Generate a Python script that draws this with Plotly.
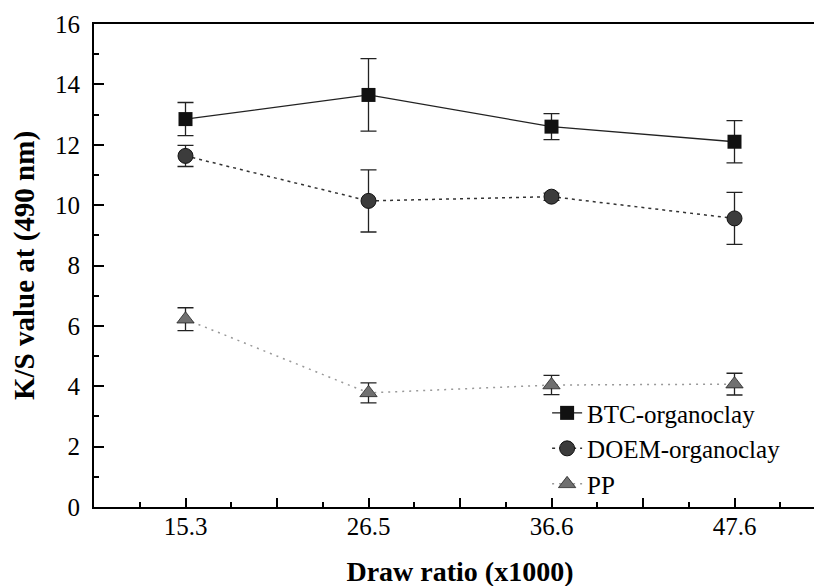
import plotly.graph_objects as go

# ---- data ----
draw_ratio = ["15.3", "26.5", "36.6", "47.6"]
btc_vals = [12.85, 13.65, 12.6, 12.1]
btc_err = [0.55, 1.2, 0.43, 0.7]
doem_vals = [11.63, 10.14, 10.28, 9.56]
doem_err = [0.35, 1.03, 0.12, 0.86]
pp_vals = [6.22, 3.78, 4.04, 4.07]
pp_err = [0.38, 0.33, 0.32, 0.36]

xpos = list(range(1, len(draw_ratio) + 1))
serif = "Liberation Serif, Times New Roman, serif"

fig = go.Figure()
fig.add_trace(go.Scatter(
    x=xpos, y=btc_vals, name="BTC-organoclay", mode="lines+markers",
    line=dict(color="#222", width=1.3),
    marker=dict(symbol="square", size=14, color="#111", line=dict(width=0)),
    error_y=dict(type="data", array=btc_err, color="#222", thickness=1.3, width=8),
))
fig.add_trace(go.Scatter(
    x=xpos, y=doem_vals, name="DOEM-organoclay", mode="lines+markers",
    line=dict(color="#333", width=1.5, dash="3px,4px"),
    marker=dict(symbol="circle", size=15, color="#3c3c3c", line=dict(width=1, color="#111")),
    error_y=dict(type="data", array=doem_err, color="#222", thickness=1.3, width=8),
))
fig.add_trace(go.Scatter(
    x=xpos, y=pp_vals, name="PP", mode="lines+markers",
    line=dict(color="#999", width=1.5, dash="2px,5px"),
    marker=dict(symbol="triangle-up", size=15, color="#707070", line=dict(width=0.8, color="#222")),
    error_y=dict(type="data", array=pp_err, color="#222", thickness=1.3, width=8),
))

tickvals = [0.5 + 0.5 * i for i in range(2 * len(draw_ratio) + 1)]
ticktext = []
for v in tickvals:
    if abs(v - round(v)) < 1e-9 and 1 <= round(v) <= len(draw_ratio):
        ticktext.append(draw_ratio[int(round(v)) - 1])
    else:
        ticktext.append("")

fig.update_layout(
    width=822, height=586,
    margin=dict(l=86, r=4, t=16, b=87),
    paper_bgcolor="white", plot_bgcolor="white",
    font=dict(family=serif, color="black", size=24),
    showlegend=True,
    legend=dict(
        x=0.619, y=0.242, xanchor="left", yanchor="top",
        bgcolor="rgba(0,0,0,0)", font=dict(size=25, family=serif),
        itemwidth=30, tracegroupgap=0,
    ),
    xaxis=dict(
        range=[0.5, 4.5], tickmode="array", tickvals=tickvals, ticktext=ticktext,
        automargin=False,
        ticks="inside", ticklen=9, tickwidth=1.5, tickcolor="black",
        minor=dict(tickmode="linear", tick0=0.75, dtick=0.5, ticks="inside", ticklen=5, tickwidth=1.5, tickcolor="black"),
        showline=True, linecolor="black", linewidth=2, mirror=True,
        showgrid=False, zeroline=False,
        tickfont=dict(size=25, family=serif),
        ticklabelstandoff=-4,
        title=dict(text="<b>Draw ratio (x1000)</b>", font=dict(size=28, family=serif), standoff=22),
    ),
    yaxis=dict(
        range=[0, 16], dtick=2, tick0=0,
        automargin=False,
        ticks="inside", ticklen=10, tickwidth=1.5, tickcolor="black",
        minor=dict(dtick=1, ticks="inside", ticklen=5, tickwidth=1.5, tickcolor="black"),
        showline=True, linecolor="black", linewidth=2, mirror="ticks",
        showgrid=False, zeroline=False,
        tickfont=dict(size=25, family=serif),
        ticklabelstandoff=7,
        title=dict(text="<b>K/S value at (490 nm)</b>", font=dict(size=29, family=serif), standoff=12),
    ),
)

fig.write_html("out.html")
